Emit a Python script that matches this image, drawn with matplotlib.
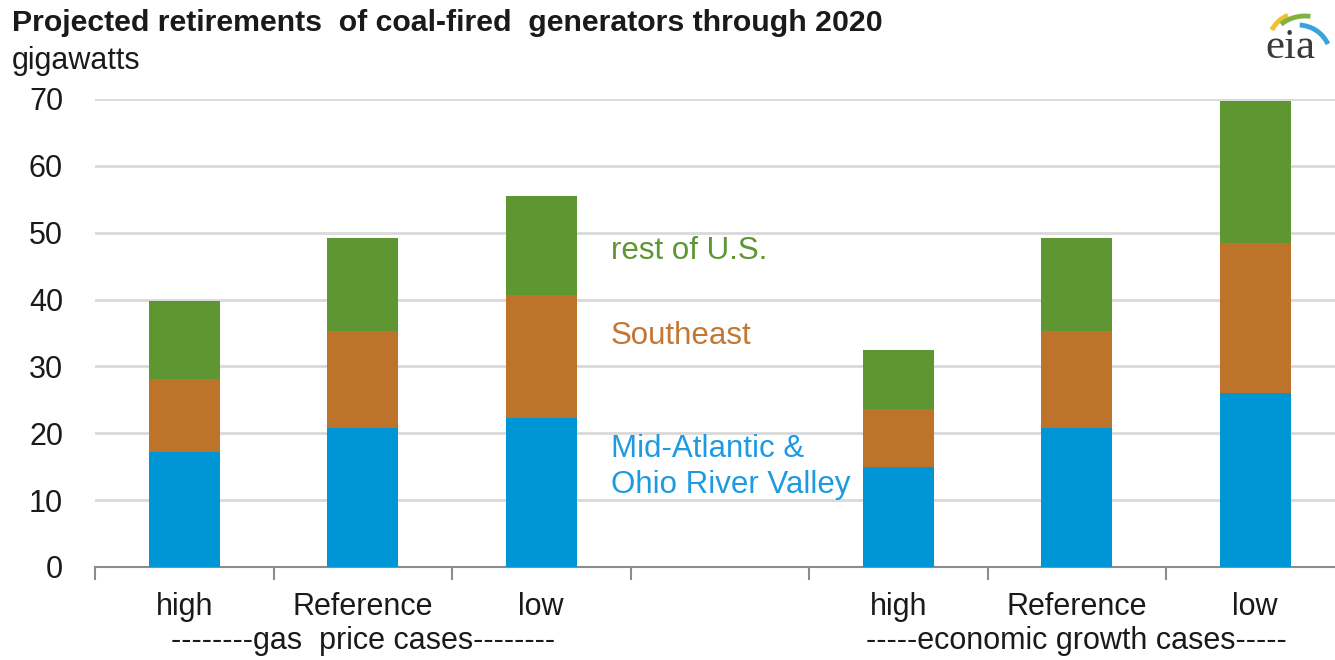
import matplotlib
matplotlib.use("Agg")
import matplotlib.pyplot as plt
import matplotlib.transforms as mtransforms
from matplotlib.patches import Arc
import numpy as np

# ---- data ----
categories = ["high", "Reference", "low", "", "high", "Reference", "low"]
mid_atlantic = [17.2, 20.8, 22.3, 0, 15.0, 20.8, 26.0]
southeast = [10.9, 14.5, 18.4, 0, 8.6, 14.5, 22.5]
rest_us = [11.7, 13.9, 14.8, 0, 8.9, 13.9, 21.2]
group_labels = ["--------gas  price cases--------", "-----economic growth cases-----"]
group_centers = [1.0, 5.0]
yticks = [0, 10, 20, 30, 40, 50, 60, 70]

BLUE = "#0096D6"
ORANGE = "#BD732A"
GREEN = "#5E9732"

plt.rcParams['font.family'] = ['Liberation Sans', 'DejaVu Sans']

W, H = 1335, 660
fig = plt.figure(figsize=(W / 100, H / 100), dpi=100)
ax = fig.add_axes([95 / W, 1 - 567 / H, (W - 95) / W, (567 - 99) / H])

x = np.arange(len(categories))
bw = 0.4
m = np.array(mid_atlantic)
s = np.array(southeast)
r = np.array(rest_us)
show = np.array([c != "" for c in categories])
ax.bar(x[show], m[show], bw, color=BLUE, zorder=3)
ax.bar(x[show], s[show], bw, bottom=m[show], color=ORANGE, zorder=3)
ax.bar(x[show], r[show], bw, bottom=(m + s)[show], color=GREEN, zorder=3)

ax.set_xlim(-0.5, -0.5 + (W - 95) / 178.5)
ax.set_ylim(0, 70)
ax.set_yticks(yticks)
ax.set_yticklabels([str(v) for v in yticks], fontsize=22, color="#1a1a1a")
ax.tick_params(axis='y', length=0, pad=23)
ax.yaxis.grid(True, color="#D9D9D9", linewidth=2, zorder=0)
ax.set_axisbelow(True)

ax.set_xticks([])
ax.set_xticks(np.arange(-0.5, 6.5, 1.0), minor=True)
ax.tick_params(axis='x', which='minor', length=9, width=1.5, color="#8c8c8c", direction='out')
ax.tick_params(axis='x', which='major', length=0)
ax.set_xticklabels([], minor=True)

for sp in ["top", "right", "left"]:
    ax.spines[sp].set_visible(False)
ax.spines["bottom"].set_color("#8c8c8c")
ax.spines["bottom"].set_linewidth(1.5)

trans = mtransforms.blended_transform_factory(ax.transData, fig.transFigure)
for xi, c in zip(x, categories):
    if c:
        ax.text(xi, 1 - 607 / H, c, transform=trans, ha="center", va="center",
                fontsize=22, color="#1a1a1a")
for gc, gl in zip(group_centers, group_labels):
    ax.text(gc, 1 - 641 / H, gl, transform=trans, ha="center", va="center",
            fontsize=22, color="#1a1a1a")

# series labels
fig.text(611 / W, 1 - 251 / H, "rest of U.S.", fontsize=22.5, color=GREEN, va="center", ha="left")
fig.text(611 / W, 1 - 336 / H, "Southeast", fontsize=22.5, color="#C27733", va="center", ha="left")
fig.text(611 / W, 1 - 467 / H, "Mid-Atlantic &\nOhio River Valley", fontsize=22.5, color="#1E9BE0",
         va="center", ha="left", linespacing=1.25)

# title
fig.text(12 / W, 1 - 23 / H, "Projected retirements  of coal-fired  generators through 2020",
         fontsize=21.8, fontweight="bold", color="#1a1a1a", va="center", ha="left")
fig.text(12 / W, 1 - 61 / H, "gigawatts", fontsize=22, color="#1a1a1a", va="center", ha="left")

# logo (pixel-coordinate axes)
lax = fig.add_axes([1250 / W, 1 - 65 / H, 85 / W, 60 / H])
lax.set_xlim(1250, 1335); lax.set_ylim(65, 5); lax.axis("off")
lax.add_patch(Arc((1300, 45), 64, 64, theta1=208, theta2=248, color="#F2C12E", lw=3.5))
lax.add_patch(Arc((1305, 55), 78, 78, theta1=232, theta2=278, color="#7FB241", lw=3.5))
lax.add_patch(Arc((1298, 58), 66, 66, theta1=273, theta2=335, color="#3BA3DC", lw=3.5))
lax.text(1290, 48, "eia", fontsize=31, color="#3a3a3a", ha="center", va="center",
         family=["Liberation Serif", "DejaVu Serif"])

fig.savefig("out.png", dpi=100)
